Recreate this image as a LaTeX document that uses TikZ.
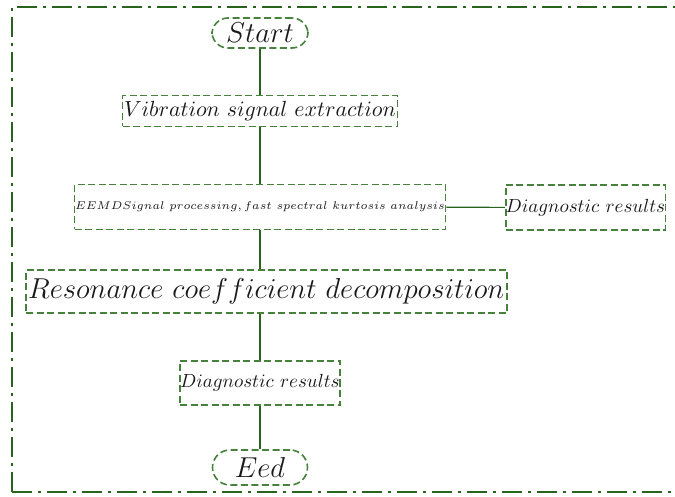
\documentclass[tikz,border=0pt]{standalone}
\usepackage{amsmath}
\usepackage{graphicx}
\usepackage{tikz}
\usetikzlibrary{positioning,calc}
\usepackage{xcolor}
\definecolor{boxgreen}{RGB}{70,130,60}
\definecolor{linegreen}{RGB}{40,100,30}

\begin{document}
\begin{tikzpicture}[
  x=0.5pt, y=-0.5pt,
  box_node/.style={rectangle, draw=boxgreen, thick, inner sep=0pt,
                   dash pattern=on 3.5pt off 1.75pt, text=black!90},
  term_node/.style={box_node, rounded corners=8pt},
  link/.style={linegreen, semithick},
  frame_line/.style={linegreen, thick,
                     dash pattern=on 10pt off 3pt on 1.5pt off 3pt}
]

% canvas
\useasboundingbox (0,0) rectangle (675,497);
\draw[frame_line] (12,492) -- (12,7) -- (690,7);
\draw[frame_line] (12,492) -- (690,492);

% Column x-position
\def\xMid{260}

% Main column
\node[term_node, minimum width=48pt, minimum height=15pt,
      font=\fontsize{15}{17}\selectfont] (start) at (\xMid,33) {$Start$};
\node[box_node, minimum width=137.5pt, minimum height=15.5pt,
      font=\fontsize{10.5}{12}\selectfont] (vib) at (\xMid,111)
      {$Vibration\ signal\ extraction$};
\node[box_node, minimum width=185.5pt, minimum height=22.5pt,
      font=\fontsize{6}{7}\selectfont] (eemd) at (\xMid,207)
      {\scalebox{0.94}{$EEMDSignal\ processing,fast\ spectral\ kurtosis\ analysis$}};
\node[box_node, minimum width=240.5pt, minimum height=21.5pt,
      font=\fontsize{14}{16}\selectfont] (reson) at (266.5,291.5)
      {$Resonance\ coefficient\ decomposition$};
\node[box_node, minimum width=80pt, minimum height=22pt,
      font=\fontsize{10}{11}\selectfont] (diagB) at (\xMid,383)
      {\scalebox{0.95}{$Diagnostic\ results$}};
\node[term_node, minimum width=47.5pt, minimum height=17.5pt,
      rounded corners=8.7pt,
      font=\fontsize{14}{16}\selectfont] (eed) at (\xMid,467.5) {$Eed$};

% Side branch
\node[box_node, minimum width=79.5pt, minimum height=22.5pt,
      font=\fontsize{10}{11}\selectfont] (diagR) at (585.5,207.5)
      {\scalebox{0.95}{$Diagnostic\ results$}};

% Connections
\draw[link] (start) -- (vib);
\draw[link] (vib) -- (eemd);
\draw[link] (eemd.south -| \xMid,0) -- (reson.north -| \xMid,0);
\draw[link] (reson.south -| \xMid,0) -- (diagB);
\draw[link] (diagB) -- (eed);
\draw[link] (eemd) -- (diagR);

\end{tikzpicture}
\end{document}
